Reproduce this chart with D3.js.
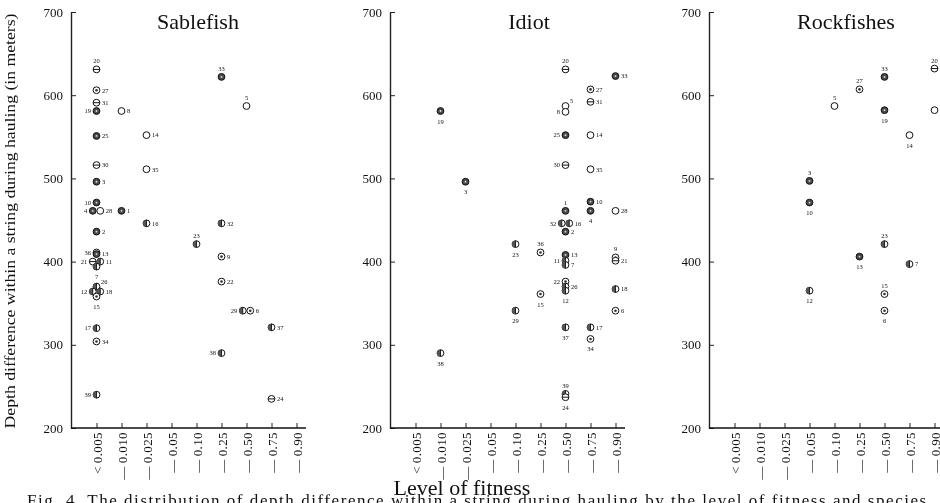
<!DOCTYPE html>
<html>
<head>
<meta charset="utf-8">
<script src="https://cdn.jsdelivr.net/npm/d3@7"></script>
<style>
  html, body { margin: 0; padding: 0; background: #fff; }
  svg { display: block; filter: grayscale(100%); }
  text { font-family: "Liberation Serif", "Times New Roman", serif; fill: #111; }
</style>
</head>
<body>
<svg id="chart" width="940" height="503"></svg>
<script>
// Fitness levels along the bottom of each panel
const fitnessLevels = ["<\u20090.005", "—\u20090.010", "—\u20090.025", "—\u20090.05", "—\u20090.10",
                       "—\u20090.25", "—\u20090.50", "—\u20090.75", "—\u20090.90"];
const depthTicks = [200, 300, 400, 500, 600, 700];
const speciesNames = ["Sablefish", "Idiot", "Rockfishes"];

// [set number, fitness level index, depth difference within the string (m)]
const sablefish = [
  [20, 0, 631], [27, 0, 606], [31, 0, 591], [19, 0, 581], [8, 1, 581],
  [25, 0, 551], [14, 2, 552], [33, 5, 622], [5, 6, 587], [30, 0, 516],
  [35, 2, 511], [3, 0, 496], [10, 0, 471], [4, 0, 461], [28, 0, 461],
  [1, 1, 461], [16, 2, 446], [32, 5, 446], [2, 0, 436], [23, 4, 421],
  [36, 0, 411], [13, 0, 409], [21, 0, 400], [11, 0, 400], [7, 0, 394],
  [26, 0, 370], [12, 0, 364], [18, 0, 364], [15, 0, 358], [17, 0, 320],
  [34, 0, 304], [39, 0, 240], [9, 5, 406], [22, 5, 376], [29, 6, 341],
  [6, 6, 341], [37, 7, 321], [38, 5, 290], [24, 7, 235]
];
const idiot = [
  [19, 1, 581], [3, 2, 496], [20, 6, 631], [33, 8, 623], [27, 7, 607],
  [31, 7, 592], [5, 6, 587], [8, 6, 580], [25, 6, 552], [14, 7, 552],
  [30, 6, 516], [35, 7, 511], [1, 6, 461], [10, 7, 472], [4, 7, 461],
  [28, 8, 461], [32, 6, 446], [16, 6, 446], [2, 6, 436], [23, 4, 421],
  [36, 5, 411], [13, 6, 408], [11, 6, 401], [7, 6, 396], [9, 8, 405],
  [21, 8, 401], [22, 6, 376], [26, 6, 370], [12, 6, 365], [18, 8, 367],
  [15, 5, 361], [6, 8, 341], [29, 4, 341], [37, 6, 321], [17, 7, 321],
  [34, 7, 307], [38, 1, 290], [39, 6, 241], [24, 6, 237]
];
const rockfishes = [
  [20, 8, 632], [8, 8, 582], [33, 6, 622], [19, 6, 582], [27, 5, 607],
  [5, 4, 587], [14, 7, 552], [3, 3, 497], [10, 3, 471], [23, 6, 421],
  [13, 5, 406], [7, 7, 397], [12, 3, 365], [15, 6, 361], [6, 6, 341]
];

// Kind of set, shown by the symbol inside each circle
const setsOpen = [5, 8, 14, 28, 35];
const setsBarred = [20, 21, 24, 30, 31];
const setsDotted = [6, 9, 15, 22, 27, 34, 36];
const setsHalf = [7, 11, 12, 16, 17, 18, 23, 26, 29, 32, 37, 38, 39];
const setsShaded = [1, 2, 3, 4, 10, 13, 19, 25, 33];

// Side on which each set number is written (t, b, l, r, tr; "" = unlabelled)
const sablefishLabelSide = {
  20: "t", 27: "r", 31: "r", 19: "l", 8: "r", 25: "r", 14: "r", 33: "t", 5: "t",
  30: "r", 35: "r", 3: "r", 10: "l", 4: "l", 28: "r", 1: "r", 16: "r", 32: "r",
  2: "r", 23: "t", 36: "l", 13: "r", 21: "l", 11: "r", 7: "b", 26: "tr", 12: "l",
  18: "r", 15: "b", 17: "l", 34: "r", 39: "l", 9: "r", 22: "r", 29: "l", 6: "r",
  37: "r", 38: "l", 24: "r"
};
const idiotLabelSide = {
  19: "b", 3: "b", 20: "t", 33: "r", 27: "r", 31: "r", 5: "tr", 8: "l", 25: "l",
  14: "r", 30: "l", 35: "r", 1: "t", 10: "r", 4: "b", 28: "r", 32: "l", 16: "r",
  2: "r", 23: "b", 36: "t", 13: "r", 11: "l", 7: "r", 9: "t", 21: "r", 22: "l",
  26: "r", 12: "b", 18: "r", 15: "b", 6: "r", 29: "b", 37: "b", 17: "r", 34: "b",
  38: "b", 39: "t", 24: "b"
};
const rockfishesLabelSide = {
  20: "t", 8: "", 33: "t", 19: "b", 27: "t", 5: "t", 14: "b", 3: "t", 10: "b",
  23: "t", 13: "b", 7: "r", 12: "b", 15: "t", 6: "b"
};

const panels = [
  { name: speciesNames[0], points: sablefish, sides: sablefishLabelSide, titleDx: 127 },
  { name: speciesNames[1], points: idiot, sides: idiotLabelSide, titleDx: 139 },
  { name: speciesNames[2], points: rockfishes, sides: rockfishesLabelSide, titleDx: 137 }
];

const svg = d3.select("#chart");
const firstAxisX = 71, panelStep = 319;
const plotTop = 12, plotBottom = 428;
const r = 3.4;

const kindOf = n =>
  setsOpen.includes(n) ? "open" :
  setsBarred.includes(n) ? "barred" :
  setsDotted.includes(n) ? "dotted" :
  setsHalf.includes(n) ? "half" : "shaded";

const y = d3.scaleLinear().domain([200, 700]).range([plotBottom, plotTop]);

// Y axis title shared by all panels
svg.append("text")
  .attr("transform", `translate(15,${(plotTop + plotBottom) / 2 + 1}) rotate(-90)`)
  .attr("text-anchor", "middle")
  .attr("textLength", 415).attr("lengthAdjust", "spacingAndGlyphs")
  .style("font-size", "15.5px")
  .text("Depth difference within a string during hauling (in meters)");

panels.forEach((p, i) => {
  const ax = firstAxisX + i * panelStep;
  const x = d3.scalePoint().domain(d3.range(fitnessLevels.length))
    .range([ax + 25.5, ax + 225.5]);

  const g = svg.append("g");

  // y axis with inward ticks
  const yAxis = g.append("g").attr("transform", `translate(${ax},0)`)
    .call(d3.axisLeft(y).tickValues(depthTicks).tickSize(-5).tickSizeOuter(0).tickPadding(8));
  yAxis.select(".domain").attr("stroke", "#222").attr("stroke-width", 1.4);
  yAxis.selectAll(".tick line").attr("stroke", "#222");
  yAxis.selectAll(".tick text")
    .style("font-family", "'Liberation Serif', serif")
    .style("font-size", "13px").attr("fill", "#111");

  // baseline and fitness level ticks
  g.append("line")
    .attr("x1", ax).attr("x2", ax + 235)
    .attr("y1", plotBottom).attr("y2", plotBottom)
    .attr("stroke", "#111").attr("stroke-width", 1.6);

  const xAxis = g.append("g").attr("transform", `translate(0,${plotBottom})`)
    .call(d3.axisBottom(x).tickSize(-5).tickFormat(d => fitnessLevels[d]));
  xAxis.select(".domain").remove();
  xAxis.selectAll(".tick line").attr("stroke", "#222");
  xAxis.selectAll(".tick text")
    .attr("transform", "rotate(-90)")
    .attr("x", -4).attr("y", 0).attr("dy", "0.35em")
    .attr("text-anchor", "end")
    .style("font-family", "'Liberation Serif', serif")
    .style("font-size", "13px")
    .style("letter-spacing", "0.4px")
    .attr("fill", "#111");

  // species title
  g.append("text")
    .attr("x", ax + p.titleDx).attr("y", 29)
    .attr("text-anchor", "middle")
    .style("font-size", "22px")
    .text(p.name);

  // sets sharing a level and depth are drawn side by side
  const byKey = d3.group(p.points, d => d[1] + ":" + d[2]);
  const placed = p.points.map(d => {
    const grp = byKey.get(d[1] + ":" + d[2]);
    const k = grp.indexOf(d);
    const shift = grp.length > 1 ? (k - (grp.length - 1) / 2) * 7.5 : 0;
    return { set: d[0], cx: x(d[1]) + shift, cy: y(d[2]), kind: kindOf(d[0]), side: p.sides[d[0]] };
  });

  const marks = g.append("g").selectAll("g.mark").data(placed).join("g")
    .attr("class", "mark")
    .attr("transform", d => `translate(${d.cx},${d.cy})`);

  marks.append("circle")
    .attr("r", r)
    .attr("fill", d => d.kind === "shaded" ? "#4a4a4a" : "#fff")
    .attr("stroke", "#111").attr("stroke-width", 1);

  marks.filter(d => d.kind === "half").append("path")
    .attr("d", d3.arc()({ innerRadius: 0, outerRadius: r, startAngle: Math.PI, endAngle: 2 * Math.PI }))
    .attr("fill", "#555");
  marks.filter(d => d.kind === "half").append("line")
    .attr("y1", -r).attr("y2", r).attr("stroke", "#111").attr("stroke-width", 0.9);

  marks.filter(d => d.kind === "barred").append("line")
    .attr("x1", -r).attr("x2", r).attr("stroke", "#111").attr("stroke-width", 1);

  marks.filter(d => d.kind === "dotted").append("circle")
    .attr("r", 1.3).attr("fill", "#333");

  marks.filter(d => d.kind === "shaded").append("circle")
    .attr("r", 0.9).attr("fill", "#ddd");

  // set numbers
  const off = {
    t: [0, -6, "middle"], b: [0, 12.5, "middle"],
    l: [-5.5, 2.3, "end"], r: [5.5, 2.3, "start"], tr: [4.5, -3, "start"]
  };
  g.append("g").selectAll("text").data(placed.filter(d => d.side)).join("text")
    .attr("x", d => d.cx + off[d.side][0])
    .attr("y", d => d.cy + off[d.side][1])
    .attr("text-anchor", d => off[d.side][2])
    .style("font-size", "6.5px")
    .text(d => d.set);
});

// x axis title
svg.append("text")
  .attr("x", 462).attr("y", 495)
  .attr("text-anchor", "middle")
  .style("font-size", "22px")
  .text("Level of fitness");

// figure caption, running off the lower edge
svg.append("text")
  .attr("x", 27).attr("y", 506)
  .attr("textLength", 905).attr("lengthAdjust", "spacing")
  .style("font-size", "17px")
  .text("Fig. 4.   The distribution of depth difference within a string during hauling by the level of fitness and species.");
</script>
</body>
</html>
